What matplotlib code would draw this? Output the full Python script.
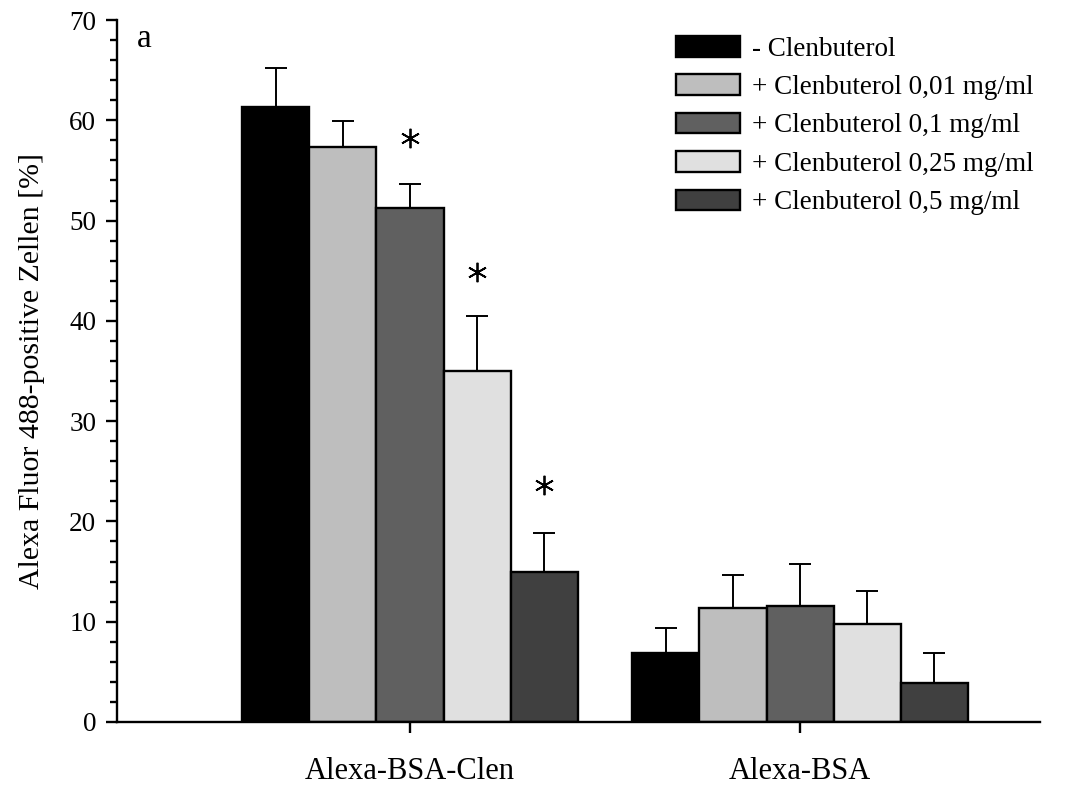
import numpy as np
import matplotlib
matplotlib.use('Agg')
import matplotlib.pyplot as plt

plt.rcParams['font.family'] = ['Liberation Serif', 'DejaVu Serif']

groups = ['Alexa-BSA-Clen', 'Alexa-BSA']
series = ['- Clenbuterol', '+ Clenbuterol 0,01 mg/ml', '+ Clenbuterol 0,1 mg/ml',
          '+ Clenbuterol 0,25 mg/ml', '+ Clenbuterol 0,5 mg/ml']
means = [[61.3, 6.9],
         [57.3, 11.4],
         [51.3, 11.6],
         [35.0, 9.8],
         [15.0, 3.9]]
errors = [[3.9, 2.5],
          [2.6, 3.3],
          [2.3, 4.2],
          [5.5, 3.3],
          [3.8, 3.0]]
# asterisk heights (only first group)
stars = [None, None, 58.2, 44.9, 23.6]
colors = ['#000000', '#bebebe', '#606060', '#e0e0e0', '#404040']

fig = plt.figure(figsize=(10.86, 7.85), dpi=100)
ax = fig.add_axes([0.1077, 0.0803, 0.85, 0.8942])

x = np.arange(1, len(groups) + 1)
w = 0.172
for i in range(len(series)):
    pos = x + (i - 2) * w
    ax.bar(pos, means[i], w, color=colors[i], edgecolor='black', linewidth=1.7,
           label=series[i], zorder=2)
    ax.errorbar(pos, means[i], yerr=[np.zeros(len(groups)), errors[i]], fmt='none',
                ecolor='black', elinewidth=1.4, capsize=8, capthick=1.4, zorder=1)
    if stars[i] is not None:
        ax.plot(pos[0], stars[i], marker=(6, 2, 0), markersize=14, mew=1.3,
                color='black', linestyle='none')

ax.set_xlim(0.249, 2.615)
ax.set_ylim(0, 70)
ax.set_yticks(np.arange(0, 71, 10))
ax.set_yticks(np.arange(0, 71, 2), minor=True)
ax.set_xticks(x)
ax.set_xticklabels(groups)
ax.spines['top'].set_visible(False)
ax.spines['right'].set_visible(False)
ax.spines['left'].set_linewidth(1.7)
ax.spines['bottom'].set_linewidth(1.7)
ax.tick_params(axis='y', which='major', length=8, width=1.7, labelsize=19.5, pad=7)
ax.tick_params(axis='y', which='minor', length=5, width=1.7)
ax.tick_params(axis='x', which='major', length=8, width=1.7, labelsize=22, pad=17)
ax.set_ylabel('Alexa Fluor 488-positive Zellen [%]', fontsize=21.5)
ax.yaxis.set_label_coords(-0.078, 0.5)

ax.text(0.0217, 0.9615, 'a', transform=ax.transAxes, fontsize=24, va='baseline', ha='left')

leg = ax.legend(loc='upper left', bbox_to_anchor=(0.6056, 0.977), frameon=False, fontsize=19.5,
                handlelength=2.37, handleheight=0.78, labelspacing=0.47, handletextpad=0.45,
                borderaxespad=0.0, borderpad=0.0)

plt.savefig('out.png', dpi=100)
